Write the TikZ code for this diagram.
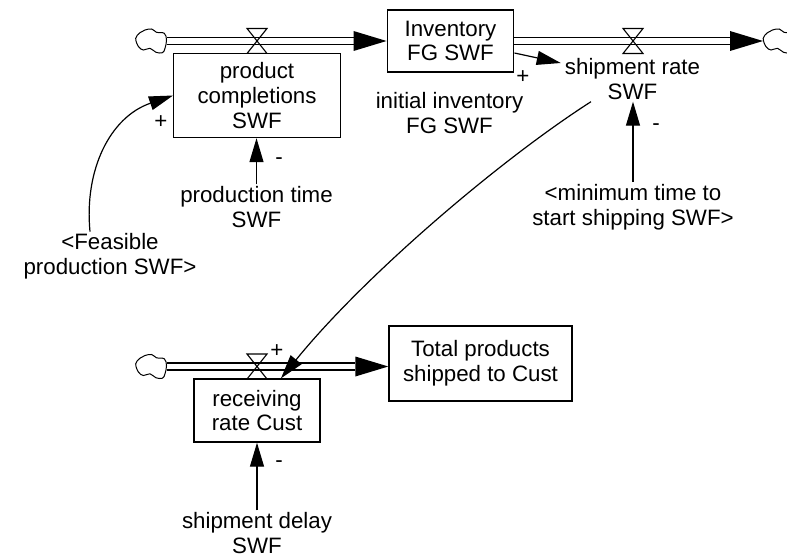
\documentclass[tikz,border=0pt]{standalone}
\usepackage{fontspec}
\setmainfont{Liberation Sans}
\usetikzlibrary{arrows.meta,calc}
\tikzset{
  txt/.style={font=\fontsize{22.3}{24.6}\selectfont},
  lbl/.style={txt,align=center,inner xsep=0pt,inner ysep=2pt},
  sbox/.style={txt,draw,line width=1.4pt,inner sep=0pt,align=center},
  sgn/.style={txt,inner sep=0pt},
  pipe/.style={line width=1.5pt},
  link/.style={line width=1.2pt,-{Triangle[length=24pt,width=14pt]}},
  valveline/.style={line width=1.1pt},
  cloudline/.style={line width=1pt,fill=white}
}
\newcommand{\cloudat}[1]{%
\draw[cloudline,shift={(#1)}] plot[smooth cycle,tension=0.6] coordinates {
 (-15.8,-2.7) (-11.5,-8.3) (-6.5,-11) (0.2,-12) (5,-8.7) (12.8,-7.7) (15,-1)
 (13.5,7.3) (11,11.7) (4.5,11.3) (-1.5,7.3) (-8,9) (-13,5.7)};}
\newcommand{\valveat}[1]{%
\draw[valveline,shift={(#1)}] (-10,-12.5) -- (10,-12.5) -- (-10,12.5) -- (10,12.5) -- cycle;}
\newcommand{\flowpipe}[2]{% from, to
\draw[pipe] ($(#1)+(0,-3.3)$) -- ($(#2)+(-33,-3.3)$);
\draw[pipe] ($(#1)+(0,3.3)$) -- ($(#2)+(-33,3.3)$);
\fill ($(#2)+(-33,-10)$) -- (#2) -- ($(#2)+(-33,10)$) -- cycle;}
\begin{document}
\begin{tikzpicture}[x=1pt,y=-1pt]
\useasboundingbox (0,0) rectangle (787,556);
% coordinates of flows
\coordinate (c1) at (167,41);
\coordinate (c2) at (763,41);
\coordinate (c3) at (167,366.5);
\coordinate (v1) at (257,41);
\coordinate (v2) at (633,41);
\coordinate (v3) at (257,366.5);
% stocks and auxiliaries
\node[sbox,minimum width=126.5pt,minimum height=62pt] (inv) at (450.5,41) {Inventory\\FG SWF};
\node[sbox,minimum width=183pt,minimum height=75pt] (tot) at (480.5,363.5) {Total products\\shipped to Cust};
\coordinate (tip3) at (tot.west |- c3);
% flows
\cloudat{151.5,41}
\valveat{v1}
\flowpipe{c1}{inv.west}
\flowpipe{inv.east}{c2}
\valveat{v2}
\cloudat{779,41}
\cloudat{151.5,366.5}
\valveat{v3}
\flowpipe{c3}{tip3}
% rate boxes
\node[sbox,fill=white,minimum width=166.5pt,minimum height=84pt] (pc) at (257,95.5) {product\\completions\\SWF};
\node[sbox,fill=white,minimum width=126pt,minimum height=63pt] (rr) at (257,410.5) {receiving\\rate Cust};
% labels
\node[lbl] (ship) at (632.5,79) {shipment rate\\SWF};
\node[lbl] (init) at (449.5,113) {initial inventory\\FG SWF};
\node[lbl] (pt) at (256.5,207) {production time\\SWF};
\node[lbl] (feas) at (110,256.5) {<Feasible\\production SWF>};
\node[lbl] (mint) at (633,207) {<minimum time to\\start shipping SWF>};
\node[lbl] (sd) at (257,533) {shipment delay\\SWF};
% connectors
\draw[link] ([yshift=-12pt]inv.east) -- ([xshift=-4pt,yshift=16pt]ship.west);
\draw[link] (mint.north) -- (mint.north |- ship.south);
\draw[link] (pt.north) -- (pt.north |- pc.south);
\draw[link] (sd.north) -- (rr.south);
\draw[link] ([xshift=-20pt]feas.north) .. controls (84,170) and (110,117) .. (pc.west);
\draw[link] ([xshift=-41.5pt]ship.south) .. controls (500,160) and (365,275) .. ([xshift=24pt]rr.north);
% signs
\node[sgn] (p1) at (523,77) {+};
\node[sgn] (p2) at (161,122) {+};
\node[sgn] (p3) at (277,351) {+};
\node[sgn] (m1) at (279,161) {-};
\node[sgn] (m2) at (656,127) {-};
\node[sgn] (m3) at (279,464) {-};
\end{tikzpicture}
\end{document}
